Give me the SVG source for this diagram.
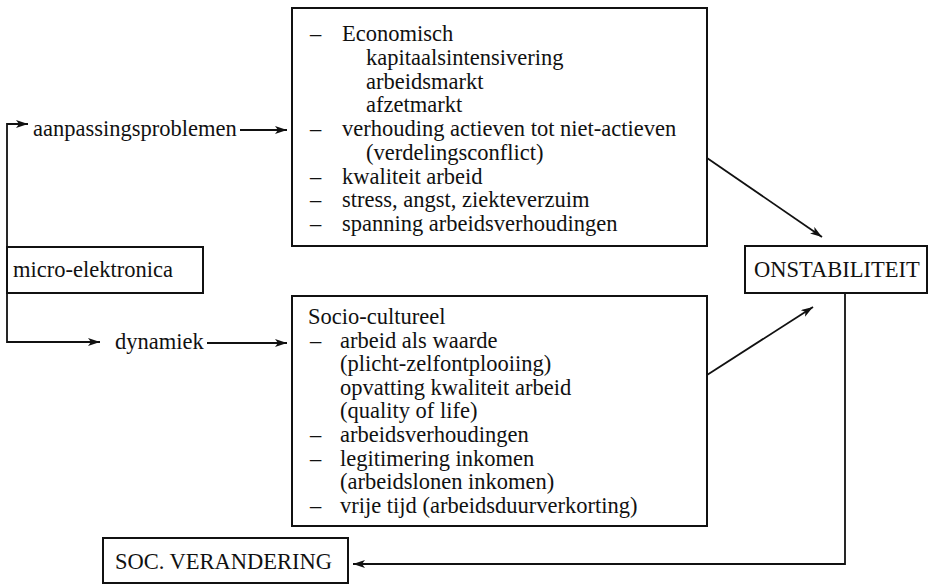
<svg xmlns="http://www.w3.org/2000/svg" width="930" height="586" viewBox="0 0 930 586">
<defs>
<style>
text{font-family:"Liberation Serif","Times New Roman",serif;font-size:22.5px;fill:#111;}
.box{fill:#fff;stroke:#111;stroke-width:2;}
.con{fill:none;stroke:#111;stroke-width:1.8;}
</style>
<marker id="ah" viewBox="0 0 12 8" refX="12" refY="4" markerWidth="12" markerHeight="8" markerUnits="userSpaceOnUse" orient="auto">
<path d="M0,0 L12,4 L0,8 L3,4 Z" fill="#111"/>
</marker>
</defs>
<rect width="930" height="586" fill="#fff"/>
<g id="connectors">
<path class="con" d="M7,247 V124 H28" marker-end="url(#ah)"/>
<path class="con" d="M7,293 V342 H100" marker-end="url(#ah)"/>
<path class="con" d="M240,130 H287" marker-end="url(#ah)"/>
<path class="con" d="M207,343 H287" marker-end="url(#ah)"/>
<path class="con" d="M707,158 L822,237" marker-end="url(#ah)"/>
<path class="con" d="M707,375 L813,307" marker-end="url(#ah)"/>
<path class="con" d="M845,293 V564 H353" marker-end="url(#ah)"/>
</g>
<g id="label-aanpassingsproblemen"><text x="33" y="136">aanpassingsproblemen</text></g>
<g id="label-dynamiek"><text x="115" y="349">dynamiek</text></g>
<g id="node-micro">
<rect class="box" x="7" y="247" width="196" height="46"/>
<text x="13" y="277">micro-elektronica</text>
</g>
<g id="node-economisch">
<rect class="box" x="292" y="8" width="415" height="238"/>
<text x="310" y="41">–</text><text x="342" y="41">Economisch</text>
<text x="366" y="64.75">kapitaalsintensivering</text>
<text x="366" y="88.5">arbeidsmarkt</text>
<text x="366" y="112.25">afzetmarkt</text>
<text x="310" y="136">–</text><text x="342" y="136">verhouding actieven tot niet-actieven</text>
<text x="366" y="159.75">(verdelingsconflict)</text>
<text x="310" y="183.5">–</text><text x="342" y="183.5">kwaliteit arbeid</text>
<text x="310" y="207.25">–</text><text x="342" y="207.25">stress, angst, ziekteverzuim</text>
<text x="310" y="231">–</text><text x="342" y="231">spanning arbeidsverhoudingen</text>
</g>
<g id="node-socio">
<rect class="box" x="292" y="296" width="415" height="230"/>
<text x="308" y="324">Socio-cultureel</text>
<text x="310" y="347.6">–</text><text x="340" y="347.6">arbeid als waarde</text>
<text x="340" y="371.2">(plicht-zelfontplooiing)</text>
<text x="340" y="394.8">opvatting kwaliteit arbeid</text>
<text x="340" y="418.4">(quality of life)</text>
<text x="310" y="442">–</text><text x="340" y="442">arbeidsverhoudingen</text>
<text x="310" y="465.6">–</text><text x="340" y="465.6">legitimering inkomen</text>
<text x="340" y="489.2">(arbeidslonen inkomen)</text>
<text x="310" y="512.8">–</text><text x="340" y="512.8">vrije tijd (arbeidsduurverkorting)</text>
</g>
<g id="node-onstabiliteit">
<rect class="box" x="745" y="246" width="182" height="47"/>
<text x="754" y="277">ONSTABILITEIT</text>
</g>
<g id="node-soc">
<rect class="box" x="103" y="538" width="245" height="45"/>
<text x="115" y="569">SOC. VERANDERING</text>
</g>
</svg>
